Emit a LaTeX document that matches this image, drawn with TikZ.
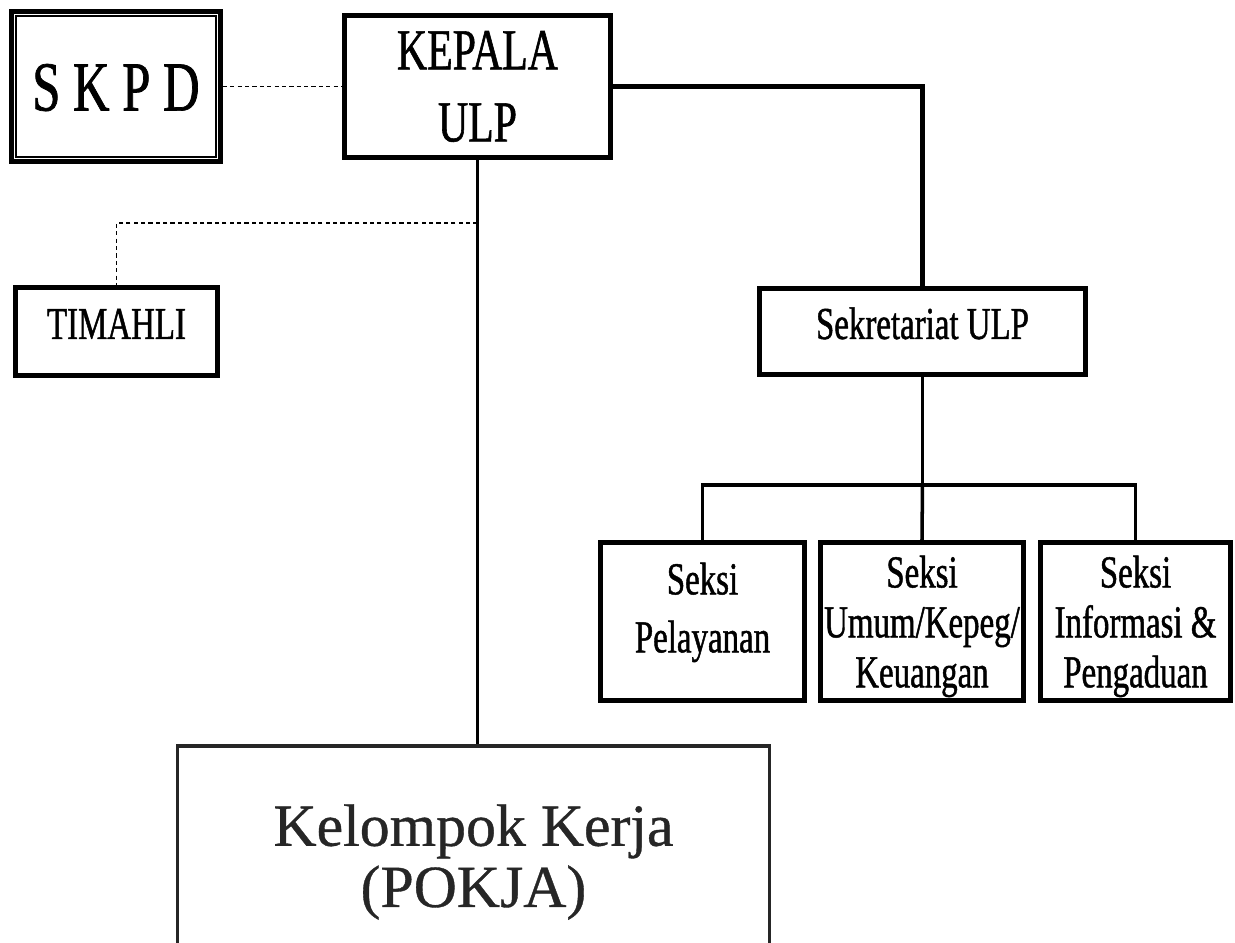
\documentclass[tikz,border=0pt]{standalone}
\usepackage{fontspec}
\setmainfont{Liberation Serif}[FakeBold=0.6]
\newfontfamily\ulpfont[FakeStretch=0.72,FakeBold=1]{Liberation Serif}

\begin{document}
\begin{tikzpicture}
  [x=0.01cm,y=-0.01cm,
   box/.style={draw,rectangle,inner sep=0pt,line width=1.3pt,align=center},
   link/.style={line width=1pt},
   dotline/.style={line width=0.45pt,dash pattern=on 1.2pt off 0.9pt}]
  \useasboundingbox (0,0) rectangle (1235,943);

  \node[box,minimum width=2.09cm,minimum height=1.50cm,text height=0.48cm,text depth=0cm,
        font=\ulpfont\fontsize{20}{24}\selectfont] (skpd) at (116,86.5) {S K P D};
  \node[box,line width=1.4pt,minimum width=2.66cm,minimum height=1.42cm,
        font=\ulpfont\fontsize{16.5}{20.5}\selectfont] (kepala) at (477.5,86.5) {KEPALA\\ULP};
  \node[box,minimum width=2.02cm,minimum height=0.88cm,text height=0.3cm,text depth=0.15cm,
        font=\ulpfont\fontsize{13}{16}\selectfont] (timahli) at (116.5,331.5) {TIMAHLI};
  \node[box,minimum width=3.26cm,minimum height=0.86cm,text height=0.3cm,text depth=0.15cm,
        font=\ulpfont\fontsize{13}{16}\selectfont] (sekretariat) at (922.5,331.5) {Sekretariat ULP};
  \node[box,minimum width=2.04cm,minimum height=1.58cm,text depth=0.28cm,
        font=\ulpfont\fontsize{13}{16.5}\selectfont] (pelayanan) at (702.5,621.5) {Seksi\\Pelayanan};
  \node[box,minimum width=2.03cm,minimum height=1.58cm,text depth=0cm,
        font=\ulpfont\fontsize{13}{14.2}\selectfont] (umum) at (922,621.5) {Seksi\\Umum/Kepeg/\\Keuangan};
  \node[box,minimum width=1.90cm,minimum height=1.58cm,text depth=0cm,
        font=\ulpfont\fontsize{13}{14.2}\selectfont] (informasi) at (1135.5,621.5) {Seksi\\Informasi \&\\Pengaduan};
  \node[box,line width=1pt,draw=black!85,text=black!85,minimum width=5.92cm,minimum height=2.32cm,
        font=\fontsize{17}{17.4}\selectfont] (pokja) at (473.5,862) {Kelompok Kerja\\(POKJA)};

  \draw[line width=0.6pt] ([shift={(7,7)}]skpd.north west) rectangle ([shift={(-7,-7)}]skpd.south east);

  \coordinate (ahli) at (kepala.south |- 0,223);
  \coordinate (bus) at (sekretariat.south |- 0,485);

  \path[draw,dotline]
        (skpd) edge (kepala)
        (ahli) -| (timahli.north);
  \draw[link,line width=1.2pt] (kepala.east) -| (sekretariat.north);
  \draw[link] (kepala.south) -- (kepala.south |- pokja.north);
  \draw[link] (sekretariat.south) -- (bus);
  \draw[link] (pelayanan.north) |- (bus) -| (informasi.north);
  \draw[link] (bus) -- (umum.north);

\end{tikzpicture}
\end{document}
